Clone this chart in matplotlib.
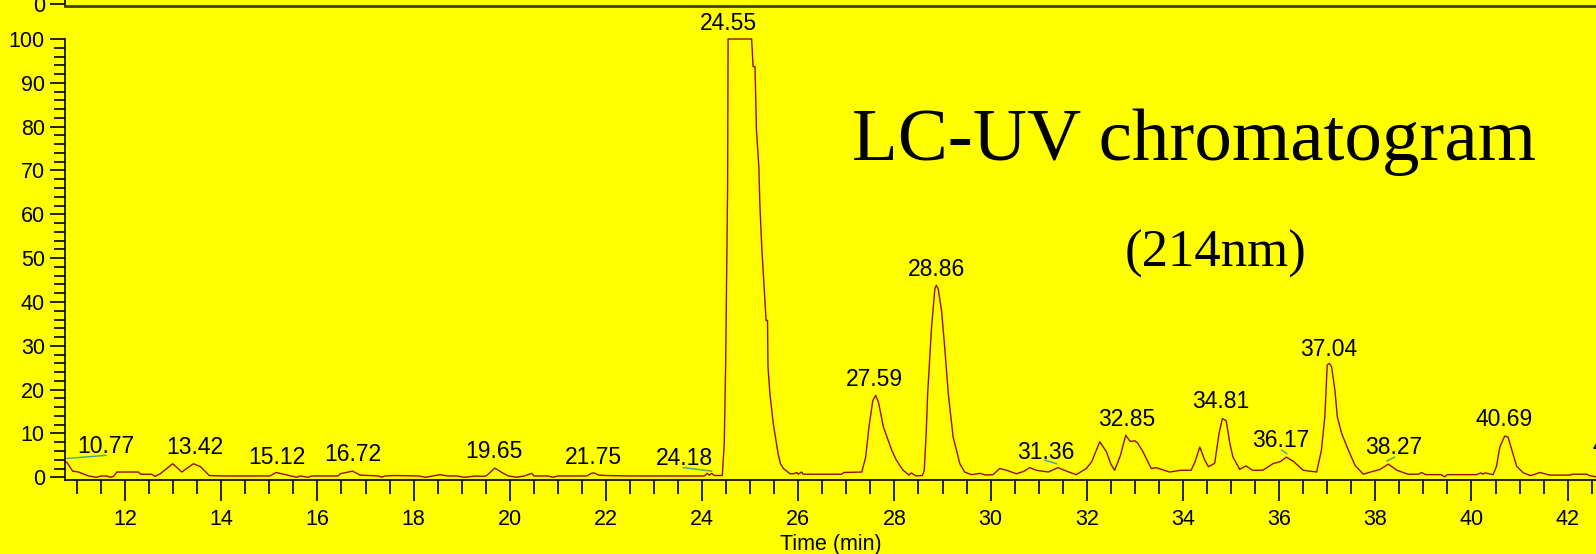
import matplotlib
matplotlib.use("Agg")
import matplotlib.pyplot as plt
from matplotlib.ticker import MultipleLocator

# --- trace (time in min, signal in %) ---
time = [
    10.75, 10.79, 10.91, 11.03, 11.24, 11.41, 11.50, 11.62, 11.69, 11.76, 11.83,
    12.28, 12.32, 12.55, 12.62, 12.73, 12.99, 13.18, 13.42, 13.57, 13.75, 14.00,
    15.01, 15.14, 15.30, 15.57, 15.64, 15.81, 15.88, 16.43, 16.47, 16.73, 16.89,
    17.27, 17.34, 17.40, 17.60, 18.10, 18.25, 18.40, 18.55, 18.70, 18.90, 19.05,
    19.30, 19.45, 19.52, 19.69, 19.85, 19.97, 20.15, 20.30, 20.46, 20.50, 20.80,
    20.90, 21.00, 21.60, 21.70, 21.75, 21.85, 22.00, 22.50, 23.00, 23.50, 24.05,
    24.10, 24.15, 24.20, 24.25, 24.38, 24.42, 24.46, 24.49, 24.53, 24.54, 25.03,
    25.06, 25.10, 25.13, 25.18, 25.20, 25.24, 25.33, 25.36, 25.37, 25.41, 25.48,
    25.58, 25.63, 25.69, 25.83, 25.90, 25.97, 26.00, 26.07, 26.10, 26.90, 26.95,
    27.32, 27.40, 27.47, 27.55, 27.61, 27.67, 27.77, 27.87, 27.95, 28.04, 28.18,
    28.25, 28.30, 28.35, 28.45, 28.58, 28.62, 28.63, 28.66, 28.69, 28.77, 28.84,
    28.87, 28.91, 28.98, 29.05, 29.12, 29.22, 29.36, 29.46, 29.60, 29.78, 29.90,
    30.05, 30.19, 30.33, 30.54, 30.70, 30.81, 30.95, 31.20, 31.40, 31.58, 31.78,
    31.99, 32.10, 32.27, 32.41, 32.50, 32.58, 32.70, 32.81, 32.90, 33.00, 33.06,
    33.17, 33.34, 33.44, 33.55, 33.72, 33.96, 34.17, 34.25, 34.35, 34.45, 34.53,
    34.66, 34.75, 34.82, 34.90, 34.97, 35.04, 35.18, 35.31, 35.45, 35.66, 35.87,
    36.03, 36.15, 36.30, 36.50, 36.78, 36.88, 36.95, 37.00, 37.04, 37.09, 37.16,
    37.21, 37.30, 37.44, 37.58, 37.75, 37.90, 38.10, 38.27, 38.45, 38.68, 38.90,
    38.96, 39.05, 39.37, 39.44, 39.50, 40.10, 40.20, 40.24, 40.28, 40.45, 40.52,
    40.59, 40.69, 40.76, 40.84, 40.94, 41.08, 41.22, 41.30, 41.42, 41.63, 42.05,
    42.10, 42.40, 42.45, 42.59,
]
signal = [
    3.6, 3.4, 1.4, 1.2, 0.3, 0.0, 0.3, 0.3, 0.0, 0.2, 1.2,
    1.2, 0.7, 0.7, 0.2, 0.8, 3.1, 1.2, 3.1, 2.4, 0.4, 0.3,
    0.3, 1.1, 0.7, 0.0, 0.3, 0.0, 0.3, 0.3, 0.8, 1.4, 0.5,
    0.3, 0.0, 0.3, 0.4, 0.3, 0.0, 0.3, 0.6, 0.3, 0.3, 0.0,
    0.3, 0.2, 0.4, 2.1, 1.0, 0.3, 0.0, 0.3, 0.9, 0.3, 0.3,
    0.0, 0.3, 0.3, 0.9, 1.0, 0.5, 0.4, 0.3, 0.3, 0.3, 0.3,
    0.9, 0.5, 0.9, 0.4, 0.4, 0.4, 7.7, 26.0, 66.0, 100.0, 100.0,
    93.7, 93.7, 79.2, 70.8, 62.5, 52.6, 35.8, 35.8, 25.2, 19.1, 12.2,
    5.4, 3.1, 2.0, 0.8, 0.8, 1.1, 0.7, 1.2, 0.7, 0.7, 1.1,
    1.2, 4.5, 11.5, 17.5, 18.7, 17.0, 11.5, 8.4, 6.0, 3.9, 1.6,
    1.0, 0.5, 1.0, 0.3, 0.4, 1.5, 3.9, 10.0, 19.0, 34.0, 43.0,
    43.8, 43.0, 38.0, 29.0, 19.0, 9.2, 3.1, 1.2, 0.6, 0.9, 0.5,
    0.6, 2.0, 1.6, 0.8, 1.4, 2.2, 1.6, 1.2, 2.2, 1.4, 0.6,
    2.0, 3.5, 8.1, 5.8, 3.0, 1.6, 5.0, 9.6, 8.2, 8.3, 7.8,
    5.8, 2.0, 2.2, 1.8, 1.2, 1.6, 1.6, 3.5, 6.9, 4.0, 2.4,
    3.2, 10.0, 13.4, 12.9, 8.0, 4.6, 1.8, 2.6, 1.6, 1.6, 3.1,
    3.6, 4.6, 3.6, 1.6, 1.2, 6.2, 13.8, 25.6, 26.0, 25.3, 19.9,
    13.8, 10.0, 6.2, 2.7, 0.7, 1.2, 1.8, 3.0, 1.6, 0.7, 0.7,
    1.1, 0.6, 0.6, 0.1, 0.6, 0.6, 1.0, 0.7, 1.0, 0.6, 2.5,
    6.9, 9.4, 9.2, 6.2, 2.5, 1.0, 0.4, 0.6, 1.1, 0.5, 0.5,
    0.7, 0.7, 0.4, 0.1,
]

# --- peak labels: text, x, y (baseline of text) ---
peak_labels = ["10.77", "13.42", "15.12", "16.72", "19.65", "21.75", "24.18",
               "24.55", "27.59", "28.86", "31.36", "32.85", "34.81", "36.17",
               "37.04", "38.27", "40.69", "43.10"]
label_x = [11.59, 13.45, 15.15, 16.73, 19.68, 21.74, 23.63, 24.54, 27.59,
           28.87, 31.14, 32.84, 34.79, 36.03, 37.02, 38.38, 40.68, 43.12]
label_y = [5.5, 5.2, 3.1, 3.7, 4.3, 3.1, 2.7, 102.0, 20.8, 45.9, 4.1, 11.6,
           15.7, 6.8, 27.7, 5.3, 11.6, 5.5]

# short baseline marks under some labels
marks = [
    ((10.79, 11.60), (4.3, 5.0)),
    ((23.61, 24.20), (2.2, 1.4)),
    ((31.13, 31.37), (3.9, 3.1)),
    ((36.05, 36.16), (6.2, 5.4)),
    ((38.24, 38.40), (3.7, 4.6)),
]

bg = "#ffff00"
trace_color = "#990a0a"
mark_color = "#3aa88a"
font = "Liberation Sans"

W, H = 1596, 554
fig = plt.figure(figsize=(W / 100, H / 100), dpi=100, facecolor=bg)

x0, x1 = 10.75, 42.59
y0, y1 = -0.62, 100.0

# main panel
ax = fig.add_axes([65 / W, (H - 480) / H, (W - 65) / W, (480 - 39) / H], facecolor=bg)
ax.plot(time, signal, color=trace_color, lw=1.0, clip_on=False)
for xs, ys in marks:
    ax.plot(xs, ys, color=mark_color, lw=1.0)
for t, lx, ly in zip(peak_labels, label_x, label_y):
    ax.text(lx, ly, t, ha="center", va="baseline", fontsize=16.5, family=font,
            color="black", clip_on=False)

ax.set_xlim(x0, x1)
ax.set_ylim(y0, y1)
ax.xaxis.set_major_locator(MultipleLocator(2))
ax.xaxis.set_minor_locator(MultipleLocator(0.5))
ax.yaxis.set_major_locator(MultipleLocator(10))
ax.yaxis.set_minor_locator(MultipleLocator(2))
ax.tick_params(which="major", length=11, width=1.2, labelsize=15.5, color="black")
ax.tick_params(which="minor", length=8, width=1.2, color="black")
ax.tick_params(axis="x", which="major", length=15, pad=6)
ax.tick_params(axis="x", which="minor", length=10)
for lab in ax.get_xticklabels() + ax.get_yticklabels():
    lab.set_family(font)
for s in ["top", "right"]:
    ax.spines[s].set_visible(False)
for s in ["left", "bottom"]:
    ax.spines[s].set_linewidth(1.2)
ax.set_xlabel("Time (min)", fontsize=15.5, family=font, labelpad=3)

# upper panel, only its bottom edge is in view
ax_top = fig.add_axes([65 / W, (H - 6) / H, (W - 65) / W, 0.5], facecolor=bg)
ax_top.set_xlim(x0, x1)
ax_top.set_ylim(y0, y1)
ax_top.set_xticks([])
ax_top.set_yticks([0])
ax_top.tick_params(axis="y", length=11, width=1.2, labelsize=15.5)
for lab in ax_top.get_yticklabels():
    lab.set_family(font)
for s in ["top", "right"]:
    ax_top.spines[s].set_visible(False)
ax_top.spines["bottom"].set_linewidth(2.0)
ax_top.spines["bottom"].set_color("#404000")
ax_top.spines["left"].set_linewidth(1.2)

fig.text(1194 / W, 1 - 160 / H, "LC-UV chromatogram", ha="center", va="baseline",
         fontsize=54, family="Liberation Serif")
fig.text(1216 / W, 1 - 267 / H, "(214nm)", ha="center", va="baseline",
         fontsize=38, family="Liberation Serif")

fig.savefig("out.png", dpi=100, facecolor=bg)
